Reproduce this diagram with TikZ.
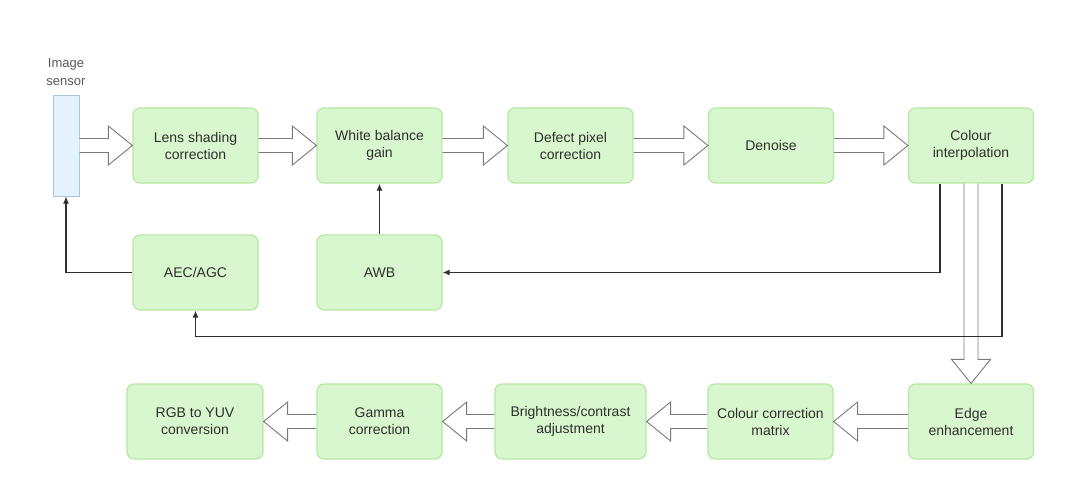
\documentclass[tikz,border=0pt]{standalone}
\usepackage{fontspec}
\setmainfont{Liberation Sans}
\usetikzlibrary{calc,arrows.meta,positioning}
\definecolor{boxfill}{HTML}{D9F7CE}
\definecolor{boxline}{HTML}{B5E8A0}
\definecolor{sensfill}{HTML}{E4F3FB}
\definecolor{sensline}{HTML}{A7C7DC}
\definecolor{txt}{HTML}{2E2E2E}
\definecolor{fatline}{HTML}{7A7A7A}
\newcommand{\fatarrow}[2]{%
  \path(#1)coordinate(fs)(#2)coordinate(ft);
  \coordinate(fh)at($(ft)!24pt!(fs)$);
  \draw[fat]($(fs)!7pt!90:(ft)$)--($(fh)!7pt!90:(ft)$)--($(fh)!19.5pt!90:(ft)$)--(ft)
    --($(fh)!19.5pt!-90:(ft)$)--($(fh)!7pt!-90:(ft)$)--($(fs)!7pt!-90:(ft)$);}

\begin{document}
\begin{tikzpicture}[x=1pt,y=-1pt,
  box/.style={draw=boxline,fill=boxfill,line width=1.2pt,rounded corners=7pt,
    minimum width=125pt,minimum height=75pt,align=center,text=txt,
    font=\fontsize{14}{17}\selectfont},
  fat/.style={draw=fatline,fill=white,line width=0.9pt},
  fb/.style={draw=txt,line width=1.3pt,-{Latex[length=7pt,width=6pt]}}]
  \useasboundingbox(0,0)rectangle(1084,483);
  % sensor
  \node[draw=sensline,fill=sensfill,line width=1pt,minimum width=26pt,
    minimum height=101pt,inner sep=0](sensor)at(66,145.5){};
  \node[align=center,text=txt!80,font=\fontsize{13}{18}\selectfont](senslabel)
    at(66,72){Image\\sensor};
  % first row
  \node[box](lens)at(195.5,145.5){Lens shading\\correction};
  \node[box](wb)at(379.5,145.5){White balance\\gain};
  \node[box](dpc)at(570.5,145.5){Defect pixel\\correction};
  \node[box](dns)at(771,145.5){Denoise};
  \node[box](ci)at(971,145.5){Colour\\interpolation};
  % 3A
  \node[box](aec)at(195.5,272.5){AEC/AGC};
  \node[box](awb)at(379.5,272.5){AWB};
  % last row
  \node[box,minimum width=136pt](rgb)at(195,421.5){RGB to YUV\\conversion};
  \node[box](gam)at(379.5,421.5){Gamma\\correction};
  \node[box,minimum width=151pt](bc)at(570.5,421.5){Brightness/contrast\\adjustment};
  \node[box](ccm)at(770.5,421.5){Colour correction\\matrix};
  \node[box](ee)at(971,421.5){Edge\\enhancement};
  % data path
  \fatarrow{sensor.east}{lens.west}
  \fatarrow{lens.east}{wb.west}
  \fatarrow{wb.east}{dpc.west}
  \fatarrow{dpc.east}{dns.west}
  \fatarrow{dns.east}{ci.west}
  \fatarrow{ci.south}{ee.north}
  \fatarrow{ee.west}{ccm.east}
  \fatarrow{ccm.west}{bc.east}
  \fatarrow{bc.west}{gam.east}
  \fatarrow{gam.west}{rgb.east}
  % feedback
  \coordinate(ciL)at([xshift=-31pt]ci.south);
  \coordinate(ciR)at([xshift=31pt]ci.south);
  \draw[fb](aec.west)-|(sensor.south);
  \draw[fb](awb.north)--(wb.south);
  \draw[fb](ciL)|-(awb.east);
  \draw[fb](ciR)|-($(aec.south)+(0,26)$)--(aec.south);
\end{tikzpicture}
\end{document}
